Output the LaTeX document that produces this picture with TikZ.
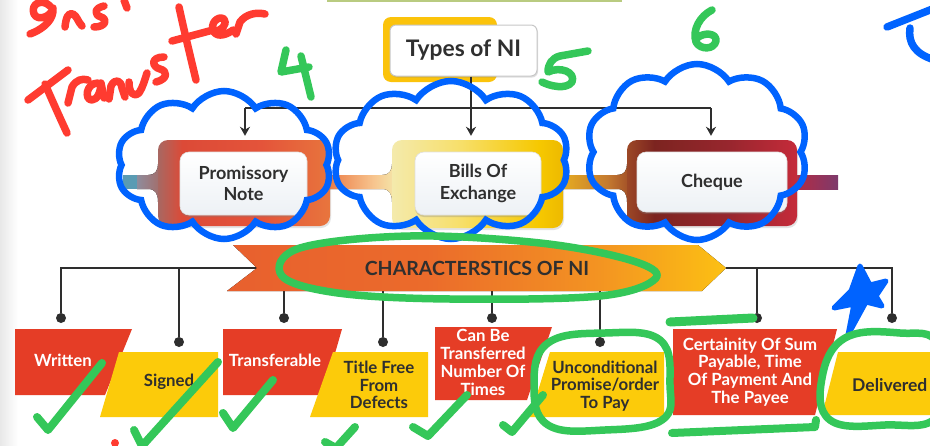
\documentclass[tikz,border=0pt]{standalone}
\usepackage{fontspec}
\setmainfont{Lato}
\usetikzlibrary{shapes.symbols,shapes.geometric,arrows.meta,shadows}
\definecolor{redbox}{HTML}{E53D26}
\definecolor{yelbox}{HTML}{FCCB0A}
\definecolor{conncol}{HTML}{2E2E2E}
\definecolor{txtcol}{HTML}{2F2F2F}
\definecolor{annblue}{HTML}{0063FF}
\definecolor{anngreen}{HTML}{34C759}
\definecolor{annred}{HTML}{FF3B30}
\definecolor{typeyel}{HTML}{FBC30B}
\definecolor{wbot}{HTML}{EDF1F5}
\definecolor{topline}{HTML}{B9CB80}
\definecolor{teal}{HTML}{5A9BB3}
\definecolor{pA}{HTML}{A86862}\definecolor{pB}{HTML}{DC4A37}\definecolor{pC}{HTML}{E4543A}\definecolor{pD}{HTML}{E8753D}
\definecolor{bA}{HTML}{F4EAAC}\definecolor{bB}{HTML}{F7DF6A}\definecolor{bC}{HTML}{F6C800}\definecolor{bD}{HTML}{EDB900}
\definecolor{cA}{HTML}{9C4826}\definecolor{cB}{HTML}{7C2420}\definecolor{cC}{HTML}{98262E}\definecolor{cD}{HTML}{C52B3A}
\definecolor{sA}{HTML}{8E8C9C}
\definecolor{s2A}{HTML}{EA7640}\definecolor{s2B}{HTML}{F7C48E}
\definecolor{s3A}{HTML}{E9B020}\definecolor{s3B}{HTML}{C47A30}
\definecolor{s4A}{HTML}{B82A40}\definecolor{s4B}{HTML}{7D3A6C}
\definecolor{banA}{HTML}{E8602E}\definecolor{banB}{HTML}{EB6B2B}\definecolor{banC}{HTML}{F39322}\definecolor{banD}{HTML}{FCC013}
\pgfdeclarehorizontalshading{pnshade}{100bp}{color(0bp)=(pA); color(25bp)=(pA); color(32bp)=(pB); color(55bp)=(pC); color(75bp)=(pD); color(100bp)=(pD)}
\pgfdeclarehorizontalshading{boshade}{100bp}{color(0bp)=(bA); color(25bp)=(bA); color(45bp)=(bB); color(68bp)=(bC); color(75bp)=(bD); color(100bp)=(bD)}
\pgfdeclarehorizontalshading{chshade}{100bp}{color(0bp)=(cA); color(25bp)=(cA); color(33bp)=(cB); color(55bp)=(cC); color(75bp)=(cD); color(100bp)=(cD)}
\pgfdeclarehorizontalshading{s2shade}{100bp}{color(0bp)=(s2A); color(25bp)=(s2A); color(58bp)=(s2B); color(75bp)=(bA); color(100bp)=(bA)}
\pgfdeclarehorizontalshading{s3shade}{100bp}{color(0bp)=(s3A); color(25bp)=(s3A); color(58bp)=(s3B); color(75bp)=(cA); color(100bp)=(cA)}
\pgfdeclarehorizontalshading{banshade}{100bp}{color(0bp)=(banA); color(25bp)=(banA); color(45bp)=(banB); color(62bp)=(banC); color(75bp)=(banD); color(100bp)=(banD)}
\tikzset{
  conn/.style={draw=conncol, line width=2.5pt},
  tconn/.style={draw=conncol, line width=2pt},
  arr/.style={-{Stealth[length=9pt,width=10pt]}},
  dot/.style={circle, fill=conncol, inner sep=0pt, minimum size=10pt},
  wbox/.style={rounded corners=9pt, top color=white, bottom color=wbot, draw=black!12, line width=0.6pt, inner sep=0pt,
     font=\fontsize{18}{21.5}\selectfont\bfseries, text=txtcol, align=center,
     drop shadow={opacity=0.3, shadow xshift=0pt, shadow yshift=-2pt}},
  body/.style={rounded corners=10pt, inner sep=0pt, drop shadow={opacity=0.22, shadow xshift=1pt, shadow yshift=-2pt}},
  rtxt/.style={text=white, font=\fontsize{16.8}{17.8}\selectfont\bfseries, align=center, inner sep=0pt},
  ytxt/.style={rtxt, text=txtcol},
  ink/.style={line width=7.5pt, line cap=round, line join=round},
  cloudink/.style={cloud, draw=annblue, line width=6.5pt, inner sep=0pt},
}
\begin{document}
\begin{tikzpicture}[x=1pt,y=-1pt]
\useasboundingbox (0,0) rectangle (930,445);
\clip (0,0) rectangle (930,445);
\fill[white] (0,0) rectangle (930,445);
\shade[left color=black!9, right color=white] (0,0) rectangle (18,445);
\draw[topline, line width=2pt] (327,1) -- (622,1);

% ---------- Types of NI ----------
\node[fill=typeyel, rounded corners=8pt, minimum width=114pt, minimum height=65pt, inner sep=0pt] (typesbg) at (440,49.5) {};
\node[fill=white, draw=black!22, line width=1pt, rounded corners=6pt, minimum width=147pt, minimum height=51pt, inner sep=0pt,
      font=\fontsize{22.8}{26}\selectfont\bfseries, text=txtcol, drop shadow={opacity=0.25, shadow xshift=1pt, shadow yshift=-1.5pt}] (types) at (463.5,50.5) {Types of NI};

% ---------- stems ----------
\fill[teal] (123,175) rectangle (138,189);
\fill[left color=sA, right color=pA] (137,175) -- (148,175) .. controls (155,175) and (158,171) .. (158,164) -- (164,164) -- (164,202) -- (158,202) .. controls (158,193) and (155,189) .. (148,189) -- (137,189) -- cycle;
\fill[shading=s2shade] (325,175) -- (382,175) .. controls (389,175) and (392,171) .. (392,164) -- (398,164) -- (398,202) -- (392,202) .. controls (392,193) and (389,189) .. (382,189) -- (325,189) -- cycle;
\fill[shading=s3shade] (558,175) -- (617,175) .. controls (624,175) and (627,171) .. (627,164) -- (633,164) -- (633,202) -- (627,202) .. controls (627,193) and (624,189) .. (617,189) -- (558,189) -- cycle;
\fill[left color=s4A, right color=s4B] (792,175) rectangle (838,189);

% ---------- bodies and boxes ----------
\node[body, shading=pnshade, minimum width=172pt, minimum height=86pt] (pnb) at (244,183) {};
\node[body, shading=boshade, minimum width=171pt, minimum height=88pt] (bob) at (477.5,184) {};
\node[body, shading=chshade, minimum width=170pt, minimum height=86pt] (chb) at (712,183) {};
\node[wbox, minimum width=127pt, minimum height=63pt] (pn) at (243.5,183.5) {Promissory\\Note};
\node[wbox, minimum width=126pt, minimum height=63pt] (bo) at (478,183.5) {Bills Of\\Exchange};
\node[wbox, minimum width=150pt, minimum height=60pt] (ch) at (712,182) {Cheque};

% ---------- top connectors ----------
\coordinate (hub) at (471,108);
\coordinate (hubL) at (245,108);
\coordinate (hubR) at (711,108);
\draw[tconn] (types.south -| hub) -- (hub);
\draw[tconn] (hubL) -- (hubR);
\draw[tconn,arr,shorten >=4pt] (hubL) -- (hubL |- pnb.north);
\draw[tconn,arr,shorten >=4pt] (hub) -- (hub |- bob.north);
\draw[tconn,arr,shorten >=4pt] (hubR) -- (hubR |- chb.north);

% ---------- bottom connectors ----------
\coordinate (notchL) at (257,268);
\coordinate (tipR) at (726,268);
\node[dot] (dW) at (61,318) {};
\node[dot] (dS) at (179,342) {};
\node[dot] (dT) at (284,318) {};
\node[dot] (dF) at (383,342) {};
\node[dot] (dC) at (492,318) {};
\node[dot] (dU) at (600,342) {};
\node[dot] (dP) at (757,318) {};
\node[dot] (dD) at (892,318) {};
\draw[conn] (notchL) -| (dW);
\draw[conn] (notchL -| dS) -- (dS);
\draw[conn] (notchL -| dT) -- (dT);
\draw[conn] (notchL -| dF) -- (dF);
\draw[conn] (notchL -| dC) -- (dC);
\draw[conn] (notchL -| dU) -- (dU);
\draw[conn] (tipR) -| (dD);
\draw[conn] (tipR -| dP) -- (dP);

% ---------- banner ----------
\fill[shading=banshade] (233,245) -- (698,245) -- (726,268) -- (702,291) -- (227,291) -- (257,268) -- cycle;
\node[font=\fontsize{19.5}{21}\selectfont\bfseries, text=txtcol, inner sep=0pt] (chars) at (477,268) {CHARACTERSTICS OF NI};

% ---------- bottom boxes ----------
\fill[redbox] (15,329) -- (132,329) -- (105,395) -- (15,395) -- cycle;
\fill[yelbox] (119,352) -- (218,352) -- (218,417) -- (100,417) -- cycle;
\fill[redbox] (223,329) -- (342,329) -- (323,395) -- (223,395) -- cycle;
\fill[yelbox] (333,352) -- (428,352) -- (428,417) -- (310,417) -- cycle;
\fill[redbox] (435,327) -- (552,327) -- (527,400) -- (435,400) -- cycle;
\fill[yelbox] (550,352) -- (664,352) -- (664,417) -- (530,417) -- cycle;
\fill[redbox] (673,329) -- (837,329) -- (815,415) -- (673,415) -- cycle;
\fill[yelbox] (838,352) -- (940,352) -- (940,415) -- (822,415) -- cycle;
\node[rtxt] (written) at (63,360) {Written};
\node[ytxt] (signed) at (169,382) {Signed};
\node[rtxt] (transf) at (275,360) {Transferable};
\node[ytxt] (title) at (379,385) {Title Free\\From\\Defects};
\node[rtxt] (canbe) at (483,362.5) {Can Be\\Transferred\\Number Of\\Times};
\node[ytxt] (uncond) at (605,386) {Unconditional\\Promise/order\\To Pay};
\node[rtxt] (cert) at (750,372) {Certainity Of Sum\\Payable, Time\\Of Payment And\\The Payee};
\node[ytxt, anchor=west, font=\fontsize{17.5}{18}\selectfont\bfseries] (deliv) at (852,385) {Delivered};

% ---------- hand annotations ----------
\node[cloudink, cloud puffs=10, cloud puff arc=115, minimum width=215pt, minimum height=148pt] (cl1) at (224,165) {};
\node[cloudink, cloud puffs=10, cloud puff arc=115, minimum width=236pt, minimum height=158pt] (cl2) at (451,160) {};
\node[cloudink, cloud puffs=10, cloud puff arc=115, minimum width=222pt, minimum height=176pt] (cl3) at (697,152) {};
\filldraw[annblue, line width=5pt, line join=round] (860,266) -- (870,285) -- (886,281) -- (876,296) -- (882,306) -- (866,302) -- (848,335) -- (854,304) -- (834,308) -- (851,291) -- cycle;
\draw[ink, annblue] (887,27) -- (935,8);
\draw[ink, annblue] (910,28) .. controls (908,42) and (914,54) .. (935,60);
\begin{scope}[ink, annred]
\draw (50,6) .. controls (42,-2) and (30,4) .. (34,14) .. controls (38,22) and (52,16) .. (53,8) .. controls (54,18) and (46,28) .. (30,34);
\draw (65,27) .. controls (66,18) and (68,12) .. (73,14) .. controls (77,16) and (78,22) .. (82,26);
\draw (104,6) .. controls (94,8) and (94,15) .. (101,17) .. controls (108,19) and (106,27) .. (94,27);
\draw (124,0) -- (127,8);
\draw (28,100) -- (68,70);
\draw (45,84) .. controls (52,100) and (60,118) .. (67,133);
\draw (68,103) -- (72,87) .. controls (76,80) and (82,78) .. (88,80);
\draw (98,83) .. controls (86,83) and (84,100) .. (92,100) .. controls (98,100) and (101,90) .. (101,83) -- (104,98);
\draw (109,99) -- (111,86) .. controls (115,78) and (121,80) .. (122,88) -- (125,97);
\draw (129,82) .. controls (129,92) and (133,98) .. (139,93) .. controls (143,87) and (145,79) .. (147,73);
\draw (164,57) .. controls (150,57) and (152,67) .. (160,69) .. controls (168,71) and (168,79) .. (156,82);
\draw (179,7) .. controls (184,30) and (190,55) .. (196,80);
\draw (172,41) -- (213,30);
\draw (214,32) .. controls (222,30) and (228,24) .. (224,19) .. controls (218,15) and (209,24) .. (214,32) .. controls (218,38) and (228,34) .. (233,30);
\draw (236,34) -- (240,22) .. controls (246,14) and (256,12) .. (265,14);
\fill (115,443) circle (4pt);
\end{scope}
\begin{scope}[ink, anngreen]
\draw (286,50) -- (281,72) -- (309,67);
\draw (301,56) -- (311,97);
\draw (588,51) -- (560,56) .. controls (552,58) and (548,64) .. (548,72) .. controls (560,66) and (576,72) .. (572,82) .. controls (566,90) and (550,86) .. (542,82);
\draw (712,10) .. controls (700,16) and (692,30) .. (696,42) .. controls (700,50) and (714,50) .. (716,41) .. controls (717,33) and (704,32) .. (697,38);
\draw plot[smooth cycle, tension=0.6] coordinates {(300,248) (410,236) (540,243) (630,260) (656,278) (600,296) (450,299) (338,293) (282,276)};
\draw plot[smooth cycle, tension=0.7] coordinates {(548,343) (605,333) (660,340) (670,385) (662,420) (605,430) (548,425) (534,385)};
\draw plot[smooth cycle, tension=0.7] coordinates {(845,338) (900,333) (938,345) (938,415) (885,425) (830,420) (822,378)};
\draw[line width=9pt] (670,322) -- (753,318);
\draw[line width=8pt] (672,433) -- (815,427) -- (816,420);
\draw[line width=8pt] (37,417) -- (48,430) -- (102,363);
\draw[line width=8pt] (134,430) -- (142,446) -- (218,362);
\draw[line width=8pt] (223,413) -- (233,428) -- (273,380);
\draw[line width=8pt] (325,442) -- (336,448) -- (355,427);
\draw[line width=8pt] (413,427) -- (428,436) -- (467,395);
\draw[line width=8pt] (503,425) -- (512,432) -- (543,395);
\end{scope}
\end{tikzpicture}
\end{document}
